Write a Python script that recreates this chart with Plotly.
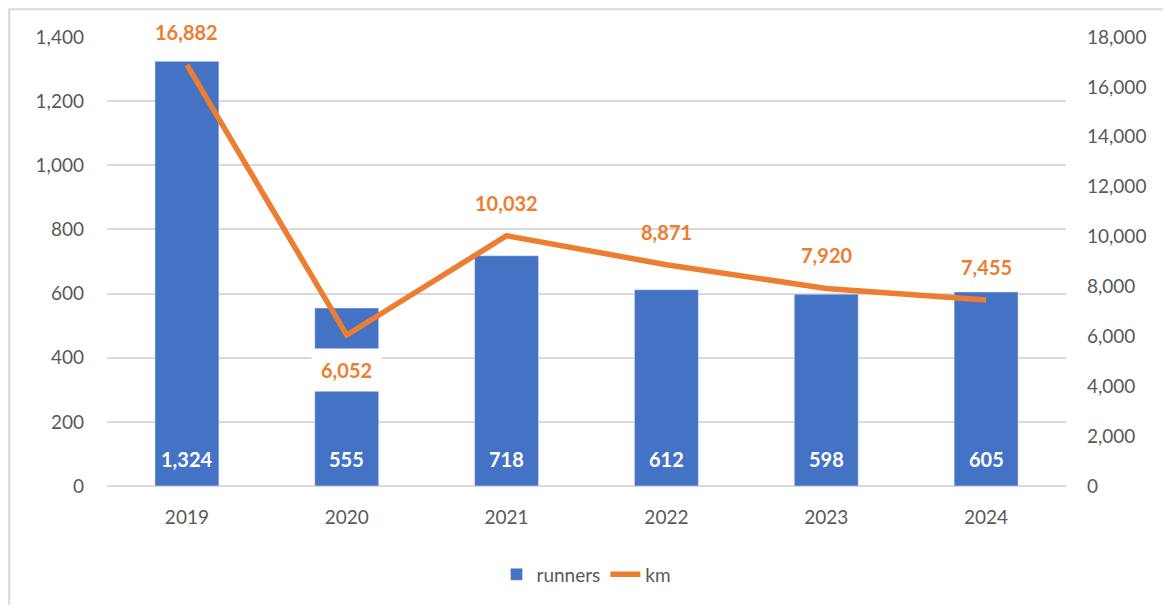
import plotly.graph_objects as go

years = ['2019', '2020', '2021', '2022', '2023', '2024']
runners = [1324, 555, 718, 612, 598, 605]
km = [16882, 6052, 10032, 8871, 7920, 7455]

BLUE = '#4472C4'
ORANGE = '#ED7D31'
GRAY = '#595959'
GRID = '#D9D9D9'
FONT = 'Lato, Open Sans, sans-serif'

fig = go.Figure()

# runners as bars on the left axis
fig.add_trace(
    go.Bar(x=years,
           y=runners,
           name='runners',
           marker=dict(color=BLUE),
           width=0.4))

# km as a line on the right axis
fig.add_trace(
    go.Scatter(x=years,
               y=km,
               name='km',
               mode='lines',
               line=dict(color=ORANGE, width=5.5),
               yaxis='y2',
               cliponaxis=False))

# runner labels near the base of each bar
for i, v in enumerate(runners):
    fig.add_annotation(x=i,
                       y=0,
                       yref='y',
                       text=f'{v:,}',
                       showarrow=False,
                       yanchor='middle',
                       yshift=27,
                       font=dict(color='white', size=20, family=FONT,
                                 weight='bold'))

# km labels: above the point, except 2020 which sits below in a white box
for i, (yr, v) in enumerate(zip(years, km)):
    below = yr == '2020'
    fig.add_annotation(x=i,
                       y=v,
                       yref='y2',
                       text=f'{v:,}',
                       showarrow=False,
                       yshift=-35 if below else 33,
                       bgcolor='white' if below else None,
                       borderpad=9 if below else 0,
                       font=dict(color=ORANGE, size=20, family=FONT,
                                 weight='bold'))

# outer chart border (right and bottom edges run off the picture)
fig.add_shape(type='rect',
              xref='paper',
              yref='paper',
              x0=-0.102,
              x1=1.2,
              y0=-0.4,
              y1=1.062,
              line=dict(color=GRID, width=2),
              layer='below')

fig.update_layout(
    width=1155,
    height=597,
    margin=dict(l=99, r=97, t=29, b=115),
    plot_bgcolor='white',
    paper_bgcolor='white',
    font=dict(family=FONT, color=GRAY, size=19),
    showlegend=True,
    legend=dict(orientation='h',
                x=0.5,
                xanchor='center',
                y=-0.197,
                yanchor='middle',
                font=dict(size=19, color=GRAY, family=FONT),
                traceorder='normal'),
    xaxis=dict(type='category',
               range=[-0.5, 5.5],
               automargin=False,
               showgrid=False,
               showline=False,
               ticks='',
               ticklabelstandoff=18,
               tickfont=dict(size=19, color=GRAY)),
    yaxis=dict(range=[0, 1400],
               dtick=200,
               tickformat=',',
               automargin=False,
               showgrid=True,
               gridcolor=GRID,
               gridwidth=2,
               zeroline=True,
               zerolinecolor=GRID,
               zerolinewidth=2,
               showline=False,
               ticks='',
               ticklabelstandoff=22,
               tickfont=dict(size=19, color=GRAY)),
    yaxis2=dict(range=[0, 18000],
                dtick=2000,
                tickformat=',',
                overlaying='y',
                side='right',
                automargin=False,
                showgrid=False,
                zeroline=False,
                showline=False,
                ticks='',
                ticklabelstandoff=20,
                tickfont=dict(size=19, color=GRAY)))

fig.write_html('out.html')
